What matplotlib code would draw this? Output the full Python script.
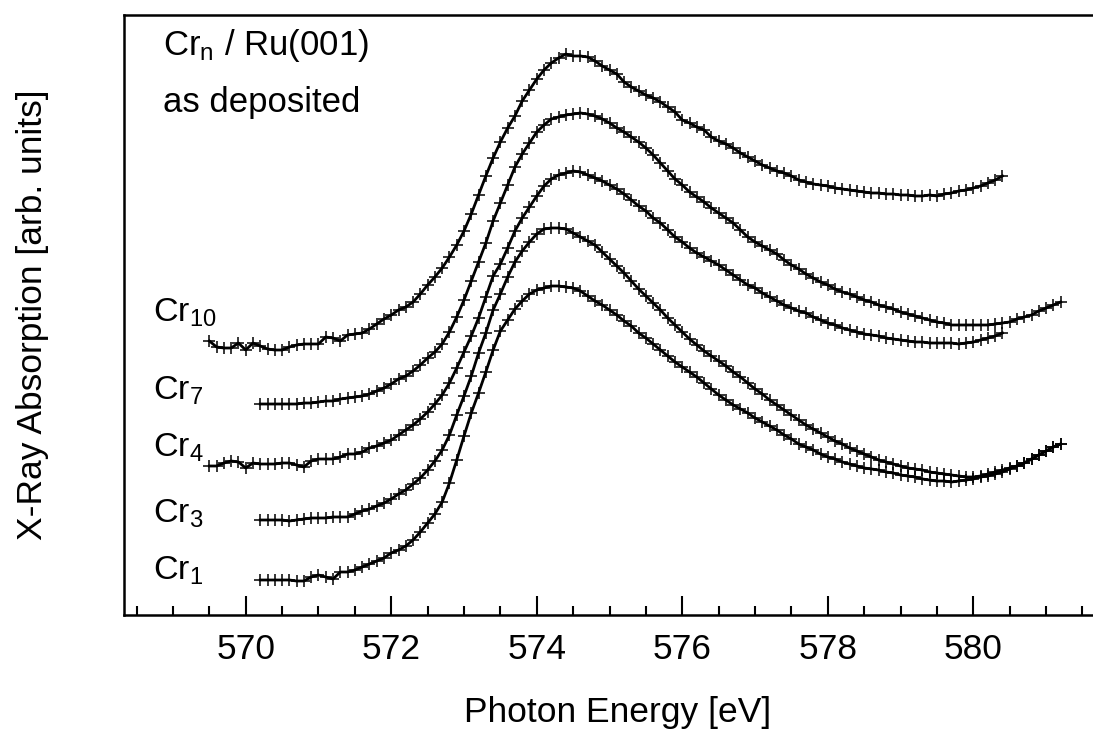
import numpy as np
import matplotlib
matplotlib.use("Agg")
import matplotlib.pyplot as plt
from matplotlib.ticker import MultipleLocator

plt.rcParams['font.family'] = ['Liberation Sans', 'DejaVu Sans']
plt.rcParams['mathtext.fontset'] = 'custom'
plt.rcParams['mathtext.rm'] = 'Liberation Sans'
plt.rcParams['mathtext.it'] = 'Liberation Sans'

# ---- data (photon energy grid: start value, 0.1 eV steps) ----
start_cr10 = 569.5
start_cr7 = 570.2
start_cr4 = 569.5
start_cr3 = 570.2
start_cr1 = 570.2
step_eV = 0.1

cr10 = [274, 268, 267, 267, 272, 265, 272, 269, 266, 265,
        265, 268, 270, 271, 271, 271, 278, 277, 274, 280,
        281, 282, 286, 291, 296, 300, 305, 308, 313, 321,
        330, 338, 347, 358, 370, 384, 401, 420, 439, 457,
        473, 487, 499, 514, 525, 536, 545, 552, 557, 561,
        559, 559, 558, 554, 549, 545, 541, 533, 528, 524,
        520, 517, 513, 508, 503, 495, 492, 488, 485, 478,
        474, 471, 467, 462, 458, 454, 450, 447, 444, 442,
        439, 435, 433, 431, 430, 429, 427, 426, 425, 424,
        423, 422, 422, 421, 421, 420, 420, 419, 419, 420,
        419, 421, 422, 424, 425, 427, 429, 432, 435, 439]

cr7 = [211, 211, 211, 211, 211, 211, 212, 212, 213, 214,
       214, 216, 217, 218, 219, 221, 224, 227, 231, 236,
       239, 244, 250, 257, 263, 271, 283, 298, 315, 334,
       353, 372, 394, 412, 430, 448, 461, 472, 483, 490,
       496, 498, 500, 501, 502, 501, 499, 496, 492, 487,
       483, 478, 473, 467, 460, 452, 444, 436, 430, 423,
       418, 413, 407, 402, 397, 392, 385, 378, 373, 369,
       365, 361, 355, 350, 346, 341, 337, 333, 330, 326,
       323, 321, 318, 315, 313, 310, 308, 306, 303, 301,
       299, 297, 295, 293, 292, 290, 290, 290, 290, 290,
       290, 291, 292, 293, 296, 298, 300, 304, 307, 310, 313]

cr4 = [149, 149, 152, 154, 153, 147, 152, 151, 151, 151,
       152, 152, 150, 148, 154, 156, 156, 156, 158, 161,
       161, 163, 167, 169, 172, 175, 180, 185, 190, 196,
       203, 211, 220, 232, 247, 263, 279, 297, 318, 339,
       351, 367, 384, 397, 408, 419, 429, 436, 440, 442,
       444, 443, 440, 437, 434, 430, 426, 421, 415, 409,
       404, 397, 392, 385, 378, 373, 367, 362, 358, 354,
       350, 345, 340, 335, 330, 327, 322, 318, 314, 310,
       307, 304, 302, 298, 295, 292, 290, 287, 285, 283,
       281, 280, 279, 277, 276, 275, 274, 273, 273, 272,
       272, 272, 272, 271, 272, 273, 275, 277, 279, 282]

cr3 = [95, 95, 95, 95, 94, 95, 96, 97, 97, 97,
       98, 98, 98, 101, 104, 106, 109, 112, 116, 121,
       125, 131, 137, 145, 154, 165, 180, 200, 219, 239,
       262, 282, 305, 321, 338, 353, 364, 373, 381, 386,
       387, 387, 386, 382, 378, 374, 370, 363, 356, 349,
       342, 334, 326, 319, 312, 305, 297, 290, 283, 276,
       270, 264, 259, 254, 249, 243, 238, 232, 226, 221,
       215, 210, 205, 200, 195, 190, 186, 182, 178, 174,
       171, 167, 164, 161, 158, 155, 153, 151, 149, 147,
       146, 145, 143, 142, 141, 140, 139, 138, 138, 139,
       141, 143, 145, 147, 149, 152, 156, 160, 164, 168, 171]

cr1 = [35, 35, 35, 35, 35, 34, 34, 38, 40, 38,
       36, 43, 43, 45, 48, 51, 54, 57, 62, 65,
       69, 75, 83, 92, 101, 113, 132, 155, 179, 202,
       222, 243, 265, 284, 295, 306, 314, 321, 325, 327,
       329, 329, 328, 327, 324, 319, 314, 310, 305, 300,
       294, 289, 282, 277, 271, 265, 259, 253, 248, 243,
       238, 232, 226, 220, 215, 210, 206, 202, 197, 193,
       189, 185, 180, 176, 171, 168, 165, 161, 158, 156,
       153, 151, 149, 147, 146, 145, 143, 142, 140, 139,
       138, 136, 135, 134, 134, 133, 134, 135, 136, 138,
       139, 141, 143, 146, 149, 152, 156, 160, 164, 168, 171]

series = [
    (r'Cr$_{\mathrm{10}}$', start_cr10, cr10),
    (r'Cr$_{\mathrm{7}}$', start_cr7, cr7),
    (r'Cr$_{\mathrm{4}}$', start_cr4, cr4),
    (r'Cr$_{\mathrm{3}}$', start_cr3, cr3),
    (r'Cr$_{\mathrm{1}}$', start_cr1, cr1),
]

x_ticks = [570, 572, 574, 576, 578, 580]

# ---- figure ----
W, H = 1093, 729
fig = plt.figure(figsize=(W / 100, H / 100), dpi=100)
ax = fig.add_axes([124 / W, 1 - 615 / H, 1 - 124 / W, 600 / H])

for label, e0, vals in series:
    y = np.asarray(vals, dtype=float)
    x = np.round(e0 + step_eV * np.arange(len(y)), 2)
    ax.plot(x, y, color='black', lw=2.0, marker='+', ms=8.5, mew=1.1,
            mec='black', zorder=3)

ax.set_xlim(568.327, 581.645)
ax.set_ylim(0, 600)

for s in ['top', 'left', 'bottom']:
    ax.spines[s].set_linewidth(1.8)
ax.spines['right'].set_visible(False)

ax.set_yticks([])
ax.set_xticks(x_ticks)
ax.xaxis.set_minor_locator(MultipleLocator(0.5))
ax.tick_params(axis='x', which='major', direction='in', length=13.5,
               width=1.5, labelsize=25.5, pad=13)
ax.tick_params(axis='x', which='minor', direction='in', length=6.5,
               width=1.5)

ax.set_xlabel('Photon Energy [eV]', fontsize=25.5)
ax.xaxis.label.set_va('baseline')
ax.xaxis.set_label_coords(0.509, -0.178)

fig.text(33 / W, 0.5 * (1 - 615 / H + 1 - 15 / H), 'X-Ray Absorption [arb. units]',
         rotation=90, ha='center', va='center', fontsize=25.5)

# curve labels (axes-fraction positions)
label_pos = [(0.0296, 293 / 600), (0.0296, 215 / 600), (0.0296, 158 / 600),
             (0.0296, 92 / 600), (0.0296, 35 / 600)]
for (label, e0, vals), (lx, ly) in zip(series, label_pos):
    ax.text(lx, ly, label, transform=ax.transAxes, ha='left', va='baseline',
            fontsize=24.5)

ax.text(39 / 969, (615 - 55) / 600, r'Cr$_{\mathrm{n}}$ / Ru(001)',
        transform=ax.transAxes, ha='left', va='baseline', fontsize=25)
ax.text(39 / 969, (615 - 112) / 600, 'as deposited',
        transform=ax.transAxes, ha='left', va='baseline', fontsize=25)

fig.savefig('out.png', dpi=100)
